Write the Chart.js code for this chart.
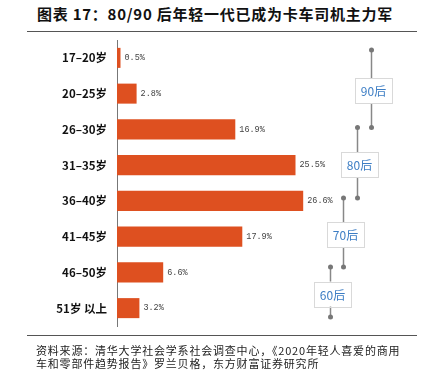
<!DOCTYPE html>
<html><head><meta charset="utf-8">
<script src="https://cdn.jsdelivr.net/npm/chart.js@4/dist/chart.umd.min.js"></script>
<style>
html,body{margin:0;padding:0;background:#fff;width:422px;height:370px;overflow:hidden;}
#wrap{position:relative;width:422px;height:370px;}
#title{position:absolute;left:37px;top:4px;font-family:"Noto Sans CJK SC";font-weight:bold;font-size:15px;letter-spacing:0.75px;color:#111;white-space:nowrap;line-height:20px;}
#tline{position:absolute;left:27px;top:31px;width:390px;height:0;border-top:1px solid #555;}
#bline{position:absolute;left:27px;top:335px;width:390px;height:0;border-top:1px solid #555;}
#foot{position:absolute;left:36px;top:344px;font-family:"Noto Sans CJK SC";font-size:11px;letter-spacing:0.8px;color:#222;line-height:13px;white-space:nowrap;}
canvas{position:absolute;left:0;top:0;}
</style></head>
<body><div id="wrap">
<div id="title">图表 17：80/90 后年轻一代已成为卡车司机主力军</div>
<div id="tline"></div>
<canvas id="c" width="422" height="370"></canvas>
<div id="bline"></div>
<div id="foot">资料来源：清华大学社会学系社会调查中心，《2020年轻人喜爱的商用<br>车和零部件趋势报告》罗兰贝格，东方财富证券研究所</div>
</div>
<script>
const categories = ['17–20岁','20–25岁','26–30岁','31–35岁','36–40岁','41–45岁','46–50岁','51岁 以上'];
const shares = [0.5, 2.8, 16.9, 25.5, 26.6, 17.9, 6.6, 3.2];
const groupLabels = ['90后','80后','70后','60后'];
const groupStart = [-0.22, 1.95, 3.92, 5.85];
const groupEnd = [1.95, 3.92, 5.85, 7.25];
const groupX = [36.3, 34.3, 32.3, 30.4];

const barLabels = {
  id:'barLabels',
  afterDatasetsDraw(chart){
    const ctx = chart.ctx;
    const meta = chart.getDatasetMeta(0);
    ctx.save();
    ctx.font = '8.5px "Liberation Mono"';
    ctx.fillStyle = '#444';
    ctx.textAlign = 'left';
    ctx.textBaseline = 'middle';
    meta.data.forEach((el,i)=>{
      ctx.fillText(shares[i].toFixed(1)+'%', el.x+4, el.y);
    });
    ctx.restore();
  }
};

const brackets = {
  id:'brackets',
  afterDatasetsDraw(chart){
    const ctx = chart.ctx;
    const xs = chart.scales.x, ys = chart.scales.y;
    ctx.save();
    groupLabels.forEach((lab,i)=>{
      const x = Math.round(xs.getPixelForValue(groupX[i]))+0.5;
      const y1 = ys.getPixelForValue(groupStart[i]);
      const y2 = ys.getPixelForValue(groupEnd[i]);
      ctx.strokeStyle = '#888';
      ctx.lineWidth = 1.5;
      ctx.beginPath(); ctx.moveTo(x,y1); ctx.lineTo(x,y2); ctx.stroke();
      ctx.fillStyle = '#777';
      [y1,y2].forEach(y=>{ctx.beginPath(); ctx.arc(x,y,2.5,0,Math.PI*2); ctx.fill();});
      const cy = (y1+y2)/2 + 2;
      const bw = 37, bh = 25;
      const bx = x + 2 - bw/2, by = cy - bh/2;
      ctx.fillStyle = '#fff';
      ctx.fillRect(bx,by,bw,bh);
      ctx.strokeStyle = '#d9d9d9';
      ctx.lineWidth = 1;
      ctx.strokeRect(Math.round(bx)+0.5,Math.round(by)+0.5,bw,bh);
      ctx.fillStyle = '#3c7dc4';
      ctx.font = '12px "Noto Sans CJK SC"';
      ctx.textAlign = 'center';
      ctx.textBaseline = 'middle';
      ctx.fillText(lab, x+2, cy+1);
    });
    ctx.restore();
  }
};

new Chart(document.getElementById('c'), {
  type:'bar',
  data:{labels:categories, datasets:[{data:shares, backgroundColor:'#de5020', borderWidth:0, barPercentage:0.56, categoryPercentage:1}]},
  options:{
    indexAxis:'y',
    responsive:false,
    animation:false,
    events:[],
    layout:{padding:{left:0,right:25,top:40,bottom:44}},
    plugins:{legend:{display:false},tooltip:{enabled:false}},
    scales:{
      x:{display:false, min:0, max:40},
      y:{
        grid:{display:false, drawTicks:false},
        border:{display:true, color:'#777', width:1},
        ticks:{padding:10, color:'#111', font:{family:'"Noto Sans CJK SC"', size:11.5, weight:'bold'}},
        afterFit(s){ s.width = 117; }
      }
    }
  },
  plugins:[barLabels, brackets]
});
</script>
</body></html>
